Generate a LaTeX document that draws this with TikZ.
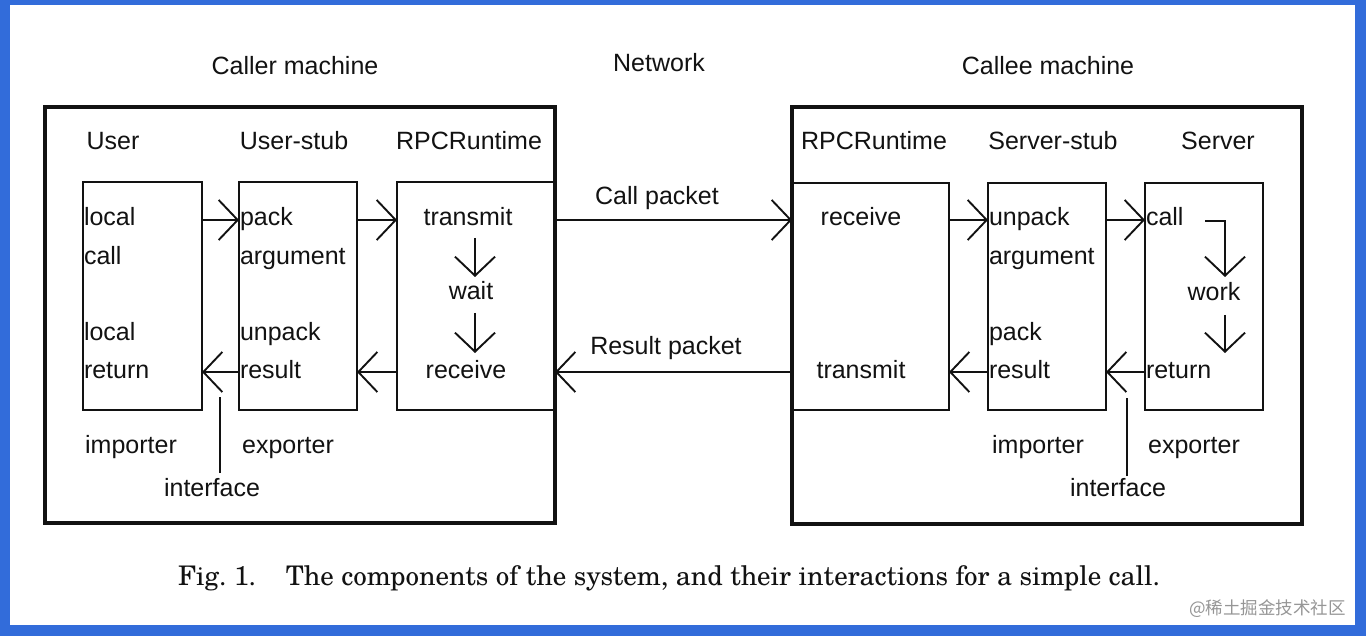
\documentclass[tikz,border=0pt]{standalone}
\usepackage{fontspec}
\setmainfont{Liberation Sans}
\newfontfamily\capfont{TeX Gyre Schola}
\newfontfamily\cjk{Noto Sans CJK SC}
\usetikzlibrary{arrows.meta}
\definecolor{frameblue}{RGB}{50,108,218}
\definecolor{ink}{RGB}{18,18,18}
\definecolor{wmgray}{RGB}{150,150,150}
\begin{document}
\begin{tikzpicture}[x=1pt,y=-1pt,
  txt/.style={font=\fontsize{25}{30}\selectfont, inner sep=0pt, outer sep=0pt, text=ink},
  lbl/.style={txt, anchor=base},
  lft/.style={txt, anchor=base west},
  outerbox/.style={draw=ink, line width=3.5pt, inner sep=0pt, outer sep=0pt, anchor=north west},
  innerbox/.style={draw=ink, line width=1.9pt, inner sep=0pt, outer sep=0pt, anchor=north west},
  arr/.style={draw=ink, line width=1.9pt, -{Straight Barb[length=19pt,width=40pt]}},
  ln/.style={draw=ink, line width=1.9pt}
]
\useasboundingbox (0,0) rectangle (1366,636);
\fill[frameblue] (0,0) rectangle (1366,636);
\fill[white] (10,5) rectangle (1355,625);

% row coordinates
\coordinate (r1) at (0,220);
\coordinate (r4) at (0,372);

% inner boxes
\node[innerbox, minimum width=119pt, minimum height=228pt] (User) at (83,182) {};
\node[innerbox, minimum width=118pt, minimum height=228pt] (UStub) at (239,182) {};
\node[innerbox, minimum width=158pt, minimum height=228pt] (RPCL) at (397,182) {};
\node[innerbox, minimum width=157pt, minimum height=227pt] (RPCR) at (792,183) {};
\node[innerbox, minimum width=118pt, minimum height=227pt] (SStub) at (988,183) {};
\node[innerbox, minimum width=118pt, minimum height=227pt] (Srv) at (1145,183) {};

% outer boxes
\node[outerbox, minimum width=510pt, minimum height=416pt] (Lout) at (45,107) {};
\node[outerbox, minimum width=510pt, minimum height=417pt] (Rout) at (792,107) {};

% top labels
\node[lbl] (tcaller) at (295,75) {Caller machine};
\node[lbl] (tnet) at (659,72) {Network};
\node[lbl] (tcallee) at (1048,75) {Callee machine};

% column headers
\node[lbl] (hUser) at (113,150) {User};
\node[lbl] (hUStub) at (294,150) {User-stub};
\node[lbl] (hRPCL) at (469,150) {RPCRuntime};
\node[lbl] (hRPCR) at (874,150) {RPCRuntime};
\node[lbl] (hSStub) at (1053,150) {Server-stub};
\node[lbl] (hSrv) at (1218,150) {Server};

% User box texts
\node[lft] (u1) at (84,226) {local};
\node[lft] (u2) at (84,265) {call};
\node[lft] (u3) at (84,341) {local};
\node[lft] (u4) at (84,378) {return};
% User-stub texts
\node[lft] (s1) at (240,226) {pack};
\node[lft] (s2) at (240,265) {argument};
\node[lft] (s3) at (240,341) {unpack};
\node[lft] (s4) at (240,378) {result};
% RPC left
\node[lbl] (p1) at (468,226) {transmit};
\node[lbl] (p2) at (471,300) {wait};
\node[lbl] (p3) at (466,378) {receive};
% RPC right
\node[lbl] (q1) at (861,226) {receive};
\node[lbl] (q4) at (861,378) {transmit};
% Server-stub texts
\node[lft] (v1) at (989,226) {unpack};
\node[lft] (v2) at (989,265) {argument};
\node[lft] (v3) at (989,341) {pack};
\node[lft] (v4) at (989,378) {result};
% Server texts
\node[lft] (w1) at (1146,226) {call};
\node[lbl] (w2) at (1214,301) {work};
\node[lft] (w4) at (1146,378) {return};

% bottom labels
\node[lbl] (impL) at (131,453) {importer};
\node[lbl] (expL) at (288,453) {exporter};
\node[lbl] (ifL) at (212,496) {interface};
\node[lbl] (impR) at (1038,453) {importer};
\node[lbl] (expR) at (1194,453) {exporter};
\node[lbl] (ifR) at (1118,496) {interface};

% network labels
\node[lbl] (callpk) at (657,205) {Call packet};
\node[lbl] (respk) at (666,355) {Result packet};

% forward arrows
\draw[arr] (User.east |- r1) -- (UStub.west |- r1);
\draw[arr] (UStub.east |- r1) -- (RPCL.west |- r1);
\draw[arr] (Lout.east |- r1) -- (Rout.west |- r1);
\draw[arr] (RPCR.east |- r1) -- (SStub.west |- r1);
\draw[arr] (SStub.east |- r1) -- (Srv.west |- r1);
% backward arrows
\draw[arr] (RPCL.west |- r4) -- (UStub.east |- r4);
\draw[arr] (UStub.west |- r4) -- (User.east |- r4);
\draw[arr] (Rout.west |- r4) -- (Lout.east |- r4);
\draw[arr] (SStub.west |- r4) -- (RPCR.east |- r4);
\draw[arr] (Srv.west |- r4) -- (SStub.east |- r4);

% vertical flow arrows, caller runtime
\coordinate (pa1) at (475,238);
\coordinate (pa2) at (475,277);
\coordinate (pa3) at (475,313);
\coordinate (pa4) at (475,353);
\draw[arr] (pa1) -- (pa2);
\draw[arr] (pa3) -- (pa4);
% server flow
\coordinate (sa0) at (1205,221);
\coordinate (sa1) at (1225,277);
\coordinate (sa2) at (1225,315);
\coordinate (sa3) at (1225,353);
\draw[arr] (sa0) -| (sa1);
\draw[arr] (sa2) -- (sa3);

% interface lines
\coordinate (ilt) at (220,397);
\coordinate (ilb) at (220,473);
\coordinate (irt) at (1127,398);
\coordinate (irb) at (1127,476);
\draw[ln] (ilb) -- (ilt);
\draw[ln] (irb) -- (irt);

% caption
\node[anchor=base west, inner sep=0pt, text=ink, font=\capfont\fontsize{24}{28}\selectfont] (cap) at (178,585)
  {\resizebox{982pt}{!}{Fig.~1.\hspace{1.1em}The components of the system, and their interactions for a simple call.}};

% watermark
\node[anchor=base east, inner sep=0pt, text=wmgray, font=\cjk\fontsize{17.5}{20}\selectfont] (wm) at (1346,614) {@稀土掘金技术社区};
\end{tikzpicture}
\end{document}
